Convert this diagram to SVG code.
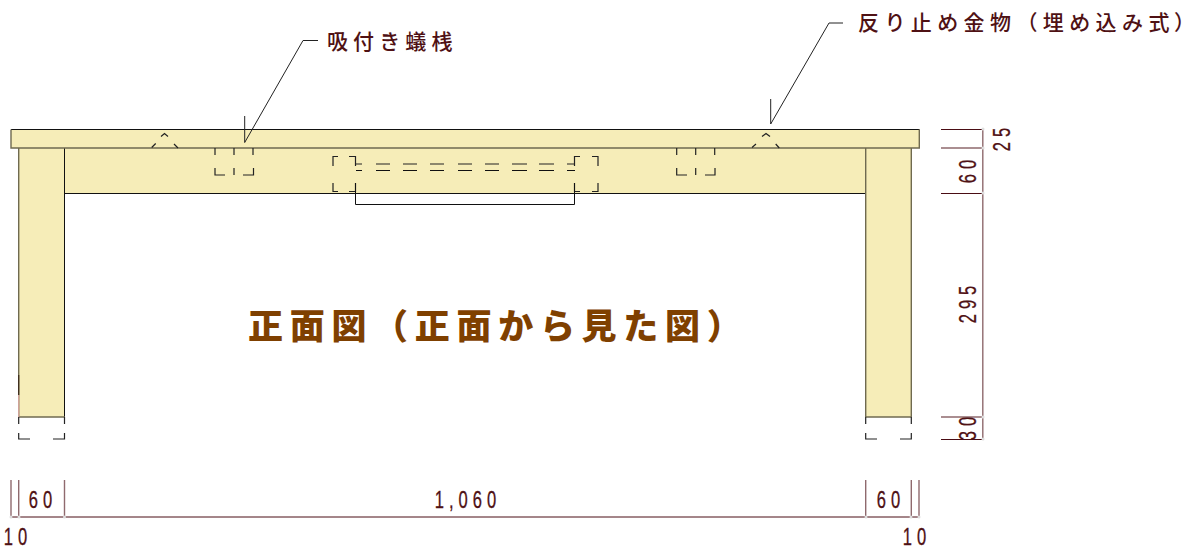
<svg xmlns="http://www.w3.org/2000/svg" width="1186" height="548" viewBox="0 0 1186 548">
<style>
.wood{fill:#f6edb8;stroke:none}
.edge{stroke:#111;stroke-width:1;fill:none}
.soft{stroke:#6f6a50;stroke-width:1.4;fill:none}
.hid{stroke:#222;stroke-width:1.2;fill:none}
.lead{stroke:#222;stroke-width:1;fill:none}
.dim{stroke:#4a0d14;stroke-width:1;fill:none}
.dimv{stroke:#8f6a6e;stroke-width:1.4;fill:none}
.dot{fill:#ddd}
text{font-family:"Noto Sans CJK JP","Liberation Sans",sans-serif;fill:#4f1114}
.num{font-family:"Liberation Sans","Noto Sans CJK JP",sans-serif;font-size:23px;letter-spacing:7px;text-anchor:middle;stroke:#4f1114;stroke-width:.3}
.note{font-size:21px;font-weight:500}
.title{font-size:35px;font-weight:900;fill:#7f4000}
.fit{font-feature-settings:"palt";letter-spacing:0}
</style>
<g id="apron"><rect class="wood" x="64" y="148" width="802" height="45"/><path class="edge" d="M64 193.500H866"/></g>
<g id="leg-left"><rect class="wood" x="19" y="148" width="45" height="269"/><path class="soft" d="M18.700 148V417"/><path class="edge" d="M64.500 148V417"/><path class="soft" d="M18.700 417H65"/><path stroke="#3a2a1a" stroke-width="1.200" d="M18.700 375V395"/><path stroke="#d9a9a0" stroke-width="1.200" d="M18.700 395V417"/><path class="hid" d="M18.700 417V424M64.500 417V424M18.700 433V439H30M53 439H64.500V433"/></g>
<g id="leg-right"><rect class="wood" x="866" y="148" width="45" height="269"/><path class="soft" d="M865.700 148V417M911.300 148V417"/><path class="soft" d="M865.700 417H911.300"/><path class="hid" d="M865.700 417V424M911.300 417V424M865.700 433V439H877M900 439H911.300V433"/></g>
<g id="top-board"><rect class="wood" x="11" y="129" width="908.500" height="19"/><path class="edge" d="M11 129.500H919.500"/><path class="soft" d="M11 129.500V148H919.300V129.500"/></g>
<g id="butterfly-keys">
<path class="hid" d="M215 148V155M234 148V155M253 148V155M215 168V175H225M234 168V175M243 175H253.500V168"/>
<path class="hid" d="M676.700 148V155M695.700 148V155M714.700 148V155M676.700 168V175H687M695.700 168V175M705 175H715V168"/>
<path class="hid" d="M333 166V156.500H338M349 156.500H355.500V166M333 183V191.500H338M349 191.500H355.500V183M574.500 166V156.500H580M592 156.500H598V166M574.500 183V191.500H580M592 191.500H598V183"/>
<path class="hid" d="M356 164H362M376 164H390M403 164H417M430 164H444M458 164H472M485 164H499M512 164H527M539 164H554M567 164H575"/>
<path class="edge" d="M356 170.500H362M376 170.500H390M403 170.500H417M430 170.500H444M458 170.500H472M485 170.500H499M512 170.500H527M539 170.500H554M567 170.500H575"/>
<path class="edge" d="M355.500 183V204.500H574.500V183"/>
</g>
<g id="stoppers">
<path class="hid" d="M151.700 147.500L155.700 143.500M161 136.500L164.500 133.500L168 136.500M174 144L178 148"/>
<path class="hid" d="M752 147.500L756 144M762 136.500L766 133.500L770 136.500M775.700 144L779.300 148"/>
</g>
<g id="connectors">
<path class="lead" d="M244.700 116V142.500M244.700 142.500L303 40.500H318"/>
<path class="lead" d="M770.700 99V124M770.700 124L829 23H843"/>
<path class="dim" d="M941 129.500H983M941 193.500H983M941 439.500H983"/>
<path class="dimv" d="M941 148H983M941 417H983M982.800 129V439"/>
<path class="dim" d="M11 517H919"/>
<path class="dimv" d="M11 480V517M18.700 480V517M64.500 480V517M865.700 480V517M911.300 480V517M919 480V517"/>
<g class="dot"><circle cx="983" cy="129" r="1.500"/><circle cx="983" cy="148" r="1.500"/><circle cx="983" cy="193" r="1.500"/><circle cx="983" cy="417" r="1.500"/><circle cx="983" cy="439" r="1.500"/><circle cx="11" cy="517" r="1.500"/><circle cx="19" cy="517" r="1.500"/><circle cx="64.500" cy="517" r="1.500"/><circle cx="866" cy="517" r="1.500"/><circle cx="911" cy="517" r="1.500"/><circle cx="919" cy="517" r="1.500"/></g>
</g>
<g id="labels">
<text class="note" x="327" y="49" letter-spacing="5.100">吸付き蟻桟</text>
<text class="note" x="858" y="30" letter-spacing="5.400">反り止め金物（埋め込み式<tspan class="fit">）</tspan></text>
<text class="title" x="248" y="339" letter-spacing="6.700">正面図（正面から見た図）</text>
<text class="num" transform="translate(43 508) scale(.72 1)">60</text>
<text class="num" transform="translate(468 508) scale(.72 1)">1,060</text>
<text class="num" transform="translate(891 508) scale(.72 1)">60</text>
<text class="num" transform="translate(18 545) scale(.72 1)">10</text>
<text class="num" transform="translate(917 545) scale(.72 1)">10</text>
<text class="num" transform="translate(1010 137) rotate(-90) scale(.72 1)">25</text>
<text class="num" transform="translate(976 169) rotate(-90) scale(.72 1)">60</text>
<text class="num" transform="translate(976 302) rotate(-90) scale(.72 1)">295</text>
<text class="num" transform="translate(976 426) rotate(-90) scale(.72 1)">30</text>
</g>
</svg>
